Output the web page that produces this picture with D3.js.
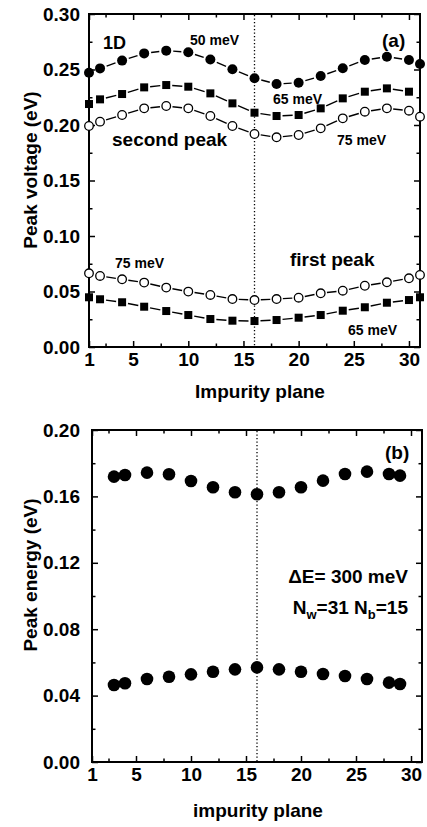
<!DOCTYPE html>
<html>
<head>
<meta charset="utf-8">
<script src="https://cdn.jsdelivr.net/npm/d3@7"></script>
<style>
  html, body { margin: 0; padding: 0; background: #fff; }
  svg { display: block; }
  text { font-family: "Liberation Sans", Arial, Helvetica, sans-serif; font-weight: bold; fill: #000; }
</style>
</head>
<body>
<script>
// ---------------- DATA ----------------
// Panel (a): peak voltage vs impurity plane
const xA = [1, 2, 4, 6, 8, 10, 12, 14, 16, 18, 20, 22, 24, 26, 28, 30, 31];
const xA30 = [1, 2, 4, 6, 8, 10, 12, 14, 16, 18, 20, 22, 24, 26, 28, 30];
const second50 = [0.247, 0.251, 0.258, 0.2645, 0.267, 0.2655, 0.259, 0.2502, 0.2421, 0.2369, 0.2381, 0.2441, 0.2511, 0.2586, 0.2615, 0.2586, 0.255];
const second65 = [0.2189, 0.2231, 0.2279, 0.2339, 0.236, 0.2345, 0.2285, 0.2195, 0.2111, 0.2081, 0.209, 0.215, 0.224, 0.23, 0.233, 0.23];
const second75 = [0.1991, 0.203, 0.209, 0.215, 0.2171, 0.215, 0.2081, 0.1991, 0.1919, 0.1889, 0.191, 0.197, 0.206, 0.212, 0.215, 0.2129, 0.2075];
const first75 = [0.0664, 0.064, 0.061, 0.058, 0.0535, 0.0499, 0.0469, 0.0432, 0.0423, 0.0432, 0.0444, 0.0484, 0.0507, 0.0552, 0.0583, 0.0619, 0.0649];
const first65 = [0.0448, 0.043, 0.0403, 0.0363, 0.0324, 0.0288, 0.0252, 0.0237, 0.0234, 0.0243, 0.0264, 0.0288, 0.0327, 0.0358, 0.0399, 0.0423, 0.0448];

// Panel (b): peak energy vs impurity plane
const xB = [3, 4, 6, 8, 10, 12, 14, 16, 18, 20, 22, 24, 26, 28, 29];
const energyUpper = [0.1719, 0.1729, 0.1743, 0.1733, 0.1693, 0.1655, 0.1625, 0.1613, 0.1625, 0.1655, 0.1695, 0.1735, 0.1749, 0.1735, 0.1725];
const energyLower = [0.0464, 0.0474, 0.05, 0.0514, 0.0528, 0.0544, 0.0558, 0.057, 0.0558, 0.0544, 0.053, 0.0518, 0.05, 0.0478, 0.047];

// Ticks
const xMajor = [1, 5, 10, 15, 20, 25, 30];
const xMinor = [2.5, 7.5, 12.5, 17.5, 22.5, 27.5];
const yMajorA = [0, 0.05, 0.10, 0.15, 0.20, 0.25, 0.30];
const yMinorA = [0.025, 0.075, 0.125, 0.175, 0.225, 0.275];
const yMajorB = [0, 0.04, 0.08, 0.12, 0.16, 0.20];
const yMinorB = [0.02, 0.06, 0.10, 0.14, 0.18];
const centerPlane = 16;

// ---------------- DRAW ----------------
const W = 427, H = 827;
const svg = d3.select("body").append("svg").attr("width", W).attr("height", H);

function frame(g, x, y, xMaj, xMin, yMaj, yMin, yFmt, yPad) {
  const [x0, x1] = x.range();
  const [y0, y1] = y.range(); // y0 bottom, y1 top
  // bottom
  g.append("g").attr("transform", `translate(0,${y0})`)
    .call(d3.axisBottom(x).tickValues(xMaj).tickSizeInner(-6).tickSizeOuter(0).tickPadding(6).tickFormat(d3.format("d")))
    .call(a => a.select(".domain").remove());
  g.append("g").attr("transform", `translate(0,${y0})`)
    .call(d3.axisBottom(x).tickValues(xMin).tickSizeInner(-3.5).tickSizeOuter(0).tickFormat(""))
    .call(a => a.select(".domain").remove());
  // top
  g.append("g").attr("transform", `translate(0,${y1})`)
    .call(d3.axisTop(x).tickValues(xMaj).tickSizeInner(-6).tickSizeOuter(0).tickFormat(""))
    .call(a => a.select(".domain").remove());
  g.append("g").attr("transform", `translate(0,${y1})`)
    .call(d3.axisTop(x).tickValues(xMin).tickSizeInner(-3.5).tickSizeOuter(0).tickFormat(""))
    .call(a => a.select(".domain").remove());
  // left
  g.append("g").attr("transform", `translate(${x0},0)`)
    .call(d3.axisLeft(y).tickValues(yMaj).tickSizeInner(-6).tickSizeOuter(0).tickPadding(yPad).tickFormat(yFmt))
    .call(a => a.select(".domain").remove());
  g.append("g").attr("transform", `translate(${x0},0)`)
    .call(d3.axisLeft(y).tickValues(yMin).tickSizeInner(-3.5).tickSizeOuter(0).tickFormat(""))
    .call(a => a.select(".domain").remove());
  // right
  g.append("g").attr("transform", `translate(${x1},0)`)
    .call(d3.axisRight(y).tickValues(yMaj).tickSizeInner(-6).tickSizeOuter(0).tickFormat(""))
    .call(a => a.select(".domain").remove());
  g.append("g").attr("transform", `translate(${x1},0)`)
    .call(d3.axisRight(y).tickValues(yMin).tickSizeInner(-3.5).tickSizeOuter(0).tickFormat(""))
    .call(a => a.select(".domain").remove());
  g.selectAll(".tick line").attr("stroke", "#000").attr("stroke-width", 1.5);
  g.selectAll(".tick text").attr("font-size", 19).attr("font-family", "Liberation Sans, Arial, sans-serif").attr("font-weight", "bold").attr("fill", "#000");
  // frame box
  g.append("rect").attr("x", x0).attr("y", y1).attr("width", x1 - x0).attr("height", y0 - y1)
    .attr("fill", "none").attr("stroke", "#000").attr("stroke-width", 2);
  // dotted center line
  g.append("line").attr("x1", x(centerPlane)).attr("x2", x(centerPlane)).attr("y1", y1 + 1).attr("y2", y0 - 1)
    .attr("stroke", "#000").attr("stroke-width", 1.3).attr("stroke-dasharray", "1.3,2.2");
}

function gappedLine(g, x, y, xs, ys, gap) {
  const pts = xs.map((d, i) => [x(d), y(ys[i])]);
  for (let i = 0; i < pts.length - 1; i++) {
    const [ax, ay] = pts[i], [bx, by] = pts[i + 1];
    const dx = bx - ax, dy = by - ay, L = Math.hypot(dx, dy);
    if (L <= 2 * gap + 0.5) continue;
    const ux = dx / L, uy = dy / L;
    g.append("line")
      .attr("x1", ax + ux * gap).attr("y1", ay + uy * gap)
      .attr("x2", bx - ux * gap).attr("y2", by - uy * gap)
      .attr("stroke", "#000").attr("stroke-width", 1.4);
  }
}

function markers(g, x, y, xs, ys, type, size) {
  xs.forEach((d, i) => {
    const cx = x(d), cy = y(ys[i]);
    if (type === "circle") {
      g.append("circle").attr("cx", cx).attr("cy", cy).attr("r", size).attr("fill", "#000");
    } else if (type === "open") {
      g.append("circle").attr("cx", cx).attr("cy", cy).attr("r", size).attr("fill", "#fff").attr("stroke", "#000").attr("stroke-width", 1.3);
    } else {
      g.append("rect").attr("x", cx - size).attr("y", cy - size).attr("width", 2 * size).attr("height", 2 * size).attr("fill", "#000");
    }
  });
}

// ---- Panel (a)
const xa = d3.scaleLinear().domain([1, 31]).range([89, 420]);
const ya = d3.scaleLinear().domain([0, 0.30]).range([347, 14]);
const ga = svg.append("g");
frame(ga, xa, ya, xMajor, xMinor, yMajorA, yMinorA, d3.format(".2f"), 9);

const seriesA = [
  { xs: xA, ys: second50, type: "circle", size: 5 },
  { xs: xA30, ys: second65, type: "square", size: 4 },
  { xs: xA, ys: second75, type: "open", size: 4.3 },
  { xs: xA, ys: first75, type: "open", size: 4.3 },
  { xs: xA, ys: first65, type: "square", size: 4 }
];
seriesA.forEach(s => gappedLine(ga, xa, ya, s.xs, s.ys, s.size + 2));
seriesA.forEach(s => markers(ga, xa, ya, s.xs, s.ys, s.type, s.size));

const labelsA = [
  { t: "1D", x: 103, y: 49, s: 18 },
  { t: "50 meV", x: 190, y: 45, s: 14 },
  { t: "(a)", x: 382, y: 47, s: 19 },
  { t: "65 meV", x: 273, y: 104, s: 14 },
  { t: "second peak", x: 112, y: 146, s: 19 },
  { t: "75 meV", x: 337, y: 145, s: 14 },
  { t: "75 meV", x: 115, y: 268, s: 14 },
  { t: "first peak", x: 290, y: 266, s: 19 },
  { t: "65 meV", x: 348, y: 335, s: 14 }
];
labelsA.forEach(l => ga.append("text").attr("x", l.x).attr("y", l.y).attr("font-size", l.s).text(l.t));

ga.append("text").attr("x", 260).attr("y", 398).attr("text-anchor", "middle").attr("font-size", 19).text("Impurity plane");
ga.append("text").attr("transform", "translate(37,170) rotate(-90)").attr("text-anchor", "middle").attr("font-size", 19).text("Peak voltage (eV)");

// ---- Panel (b)
const xb = d3.scaleLinear().domain([1, 31]).range([92, 422]);
const yb = d3.scaleLinear().domain([0, 0.20]).range([762, 430]);
const gb = svg.append("g");
frame(gb, xb, yb, xMajor, xMinor, yMajorB, yMinorB, d3.format(".2f"), 12);

markers(gb, xb, yb, xB, energyUpper, "circle", 6.3);
markers(gb, xb, yb, xB, energyLower, "circle", 6.3);

gb.append("text").attr("x", 385).attr("y", 459).attr("font-size", 19).text("(b)");
gb.append("text").attr("x", 408).attr("y", 583).attr("text-anchor", "end").attr("font-size", 19).text("ΔE= 300 meV");
const nt = gb.append("text").attr("x", 408).attr("y", 614).attr("text-anchor", "end").attr("font-size", 19);
nt.append("tspan").text("N");
nt.append("tspan").attr("font-size", 13).attr("dy", 5).text("w");
nt.append("tspan").attr("dy", -5).text("=31 N");
nt.append("tspan").attr("font-size", 13).attr("dy", 5).text("b");
nt.append("tspan").attr("dy", -5).text("=15");

gb.append("text").attr("x", 258).attr("y", 817).attr("text-anchor", "middle").attr("font-size", 19).text("impurity plane");
gb.append("text").attr("transform", "translate(37,575) rotate(-90)").attr("text-anchor", "middle").attr("font-size", 19).text("Peak energy (eV)");
</script>
</body>
</html>
